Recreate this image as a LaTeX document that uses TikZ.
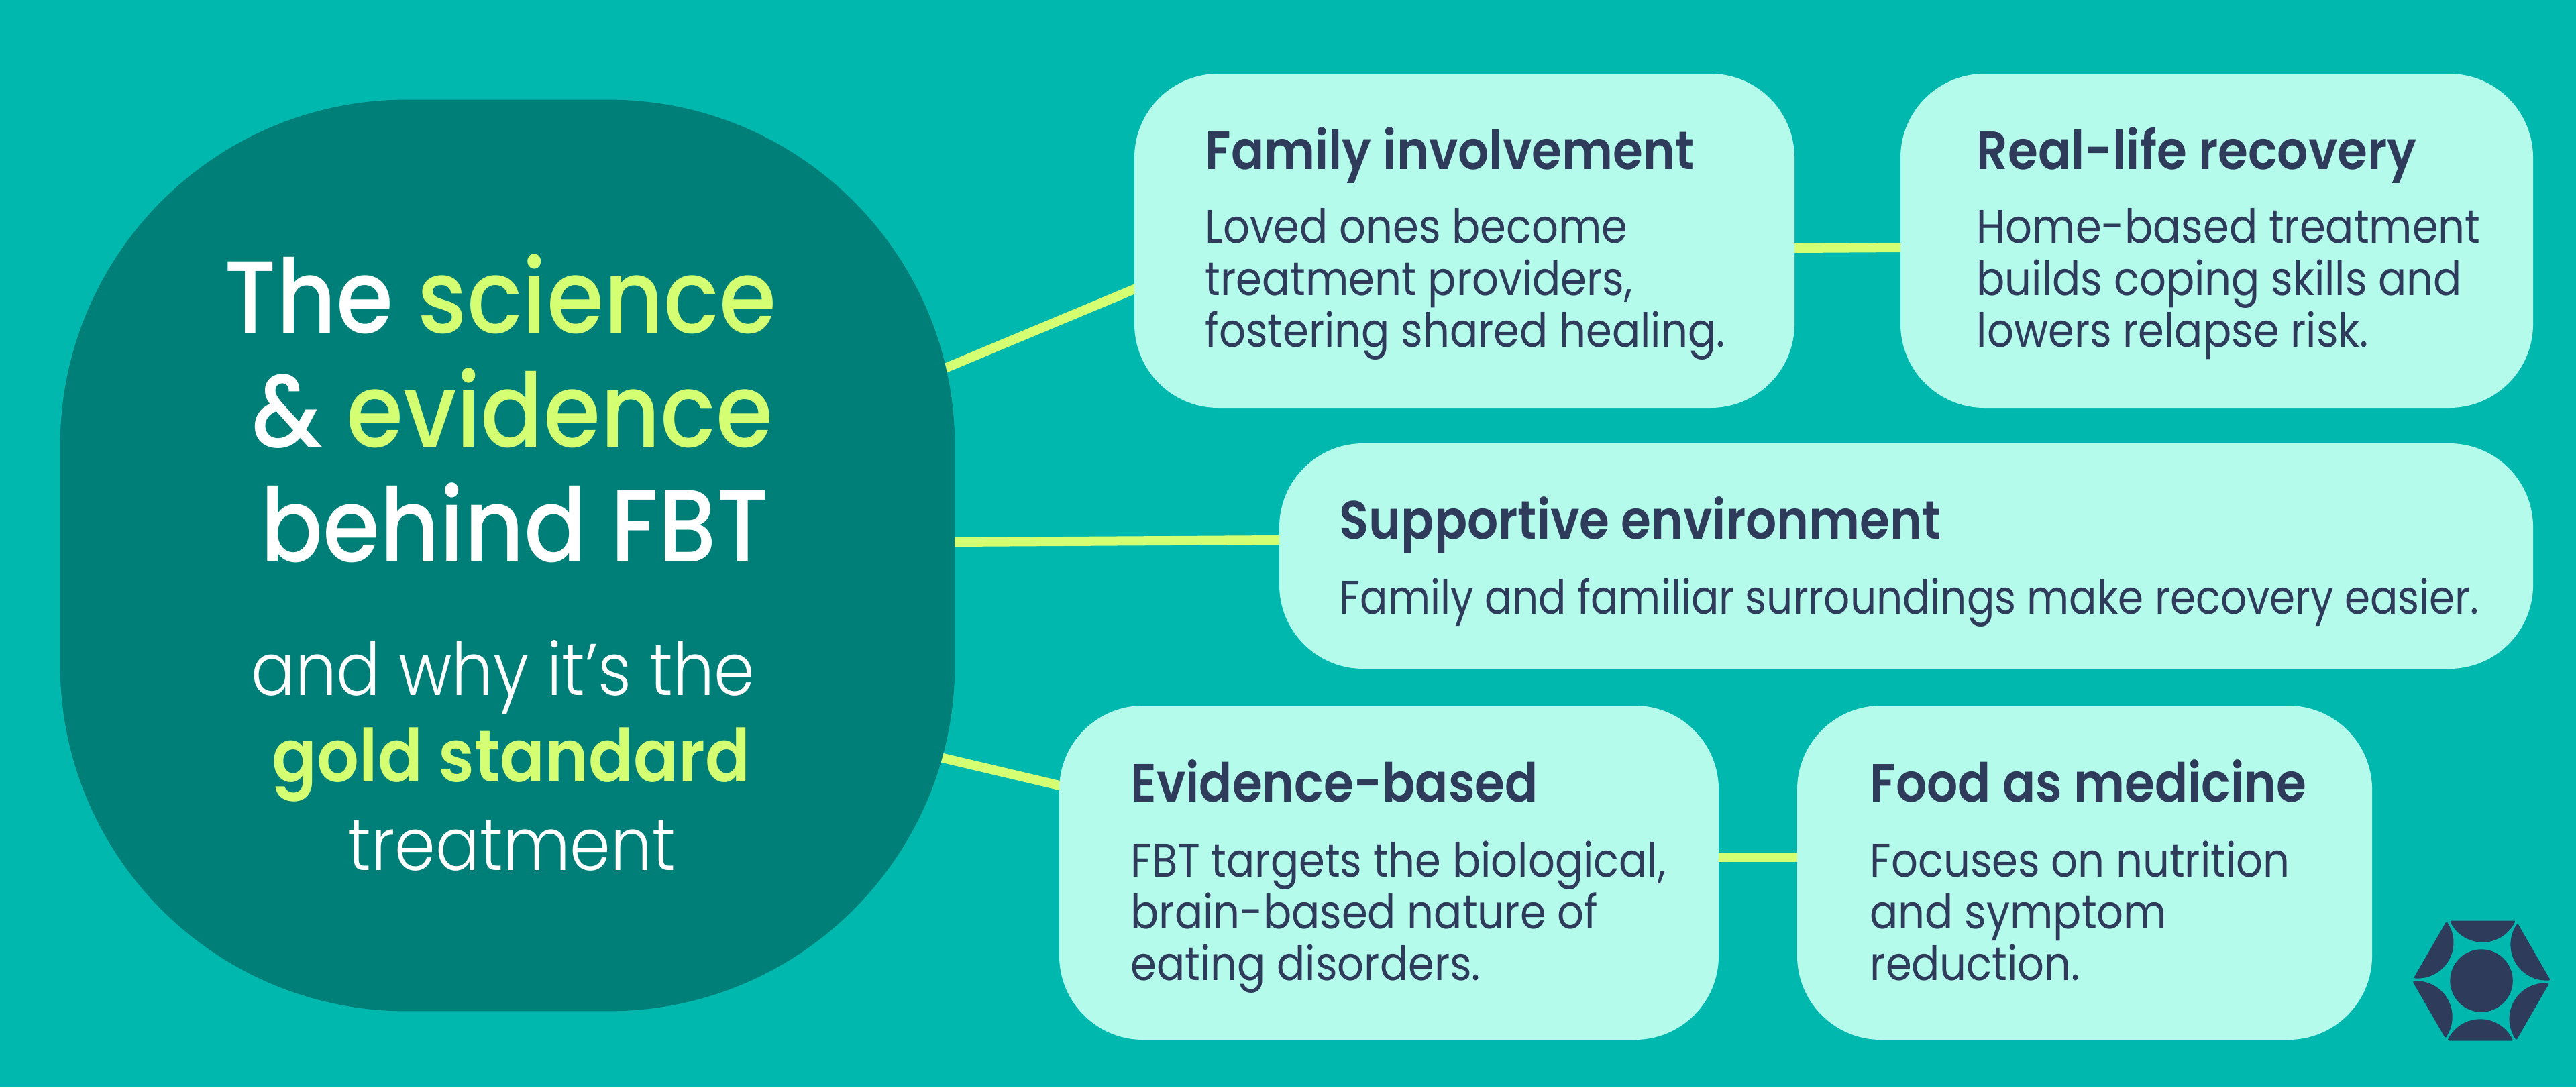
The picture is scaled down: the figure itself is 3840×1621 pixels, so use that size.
\documentclass[tikz,border=0pt]{standalone}
\usepackage{fontspec}
\usetikzlibrary{backgrounds}
\setmainfont{Poppins}
\newfontfamily\headfont[FakeStretch=0.9]{Poppins Medium}
\newfontfamily\subfont[FakeStretch=0.895]{Poppins Light}
\newfontfamily\goldfont[FakeStretch=0.905]{Poppins SemiBold}
\newfontfamily\cardheadfont[FakeStretch=0.905]{Poppins SemiBold}
\newfontfamily\cardfont[FakeStretch=0.888]{Poppins}
\newfontfamily\longfont[FakeStretch=0.871]{Poppins}
\definecolor{sea}{HTML}{00B8AD}
\definecolor{deepsea}{HTML}{007F78}
\definecolor{mint}{HTML}{B5FBEC}
\definecolor{lime}{HTML}{D4FF73}
\definecolor{navy}{HTML}{2E3B5B}
\tikzset{
  card/.style={rectangle,rounded corners=1.25cm,fill=mint,inner sep=0pt,outer sep=0pt},
  cardhead/.style={anchor=base west,inner sep=0pt,text=navy,font=\cardheadfont\fontsize{22.8}{26}\selectfont},
  cardtxt/.style={anchor=north west,inner sep=0pt,align=left,text=navy,font=\cardfont\fontsize{20}{22}\selectfont},
  headline/.style={anchor=base,inner sep=0pt,text=white,font=\headfont\fontsize{43.5}{48}\selectfont},
  subline/.style={anchor=base,inner sep=0pt,text=white,font=\subfont\fontsize{31}{36}\selectfont},
  link/.style={draw=lime,line width=0.14cm,shorten <=-0.3cm,shorten >=-0.3cm},
}
\begin{document}
\begin{tikzpicture}[x=0.01cm,y=-0.01cm]
  \useasboundingbox (0,0) rectangle (3840,1621);

  \node[rectangle,rounded corners=5.16cm,fill=deepsea,inner sep=0pt,outer sep=0pt,
        minimum width=13.33cm,minimum height=13.58cm] (blob) at (756.5,828) {};

  \node[headline] (lineA) at (746,496) {The \textcolor{lime}{science}};
  \node[headline] (lineB) at (764,666) {\& \textcolor{lime}{evidence}};
  \node[headline] (lineC) at (767,837) {behind FBT};
  \node[subline] (lineD) at (750,1036) {and why it’s the};
  \node[subline,text=lime,font=\goldfont\fontsize{31}{36}\selectfont] (lineE) at (762,1165) {gold standard};
  \node[subline] (lineF) at (763,1297) {treatment};

  \foreach \name/\cx/\cy/\bw/\bh/\tx/\ty/\head/\txt in {
    family/2183/359/984/498/1796/252/{Family involvement}/{Loved ones become\\treatment providers,\\fostering shared healing.},
    real/3304.5/359/943/498/2946/252/{Real-life recovery}/{Home-based treatment\\builds coping skills and\\lowers relapse risk.},
    support/2841.5/829/1869/336/1996/803/{Supportive environment}/{\longfont Family and familiar surroundings make recovery easier.},
    evidence/2070.5/1301/983/498/1685/1195/{Evidence-based}/{FBT targets the biological,\\brain-based nature of\\eating disorders.},
    food/3107.5/1301/857/498/2787/1195/{Food as medicine}/{Focuses on nutrition\\and symptom\\reduction.}%
  }{
    \node[card,minimum width=\bw*0.01cm,minimum height=\bh*0.01cm] (\name) at (\cx,\cy) {};
    \node[cardhead] (\name head) at (\tx,\ty) {\head};
    \node[cardtxt] (\name txt) at (\tx,\ty+58) {\txt};
  }

  % logo
  \fill[navy] (3699,1462) circle (0.467cm);
  \foreach \a in {0,60,...,300}
    \filldraw[navy,line width=0.03cm,line join=round,shift={(3699,1462)},x=0.01cm,y=0.01cm,rotate=\a]
      (-45,88) arc[start angle=206,end angle=334,radius=0.52cm] -- cycle;

  \begin{scope}[on background layer]
    \fill[sea] (0,0) rectangle (3840,1621);
    \path[link] ([yshift=2.85cm]blob.east) -- ([yshift=-0.72cm]family.west);
    \path[link] ([yshift=-0.11cm]family.east) -- ([yshift=-0.10cm]real.west);
    \path[link] ([yshift=0.20cm]blob.east) -- ([yshift=0.24cm]support.west);
    \path[link] ([yshift=-3.06cm]blob.east) -- ([yshift=1.30cm]evidence.west);
    \path[link] ([yshift=0.23cm]evidence.east) -- ([yshift=0.23cm]food.west);
  \end{scope}
\end{tikzpicture}
\end{document}
